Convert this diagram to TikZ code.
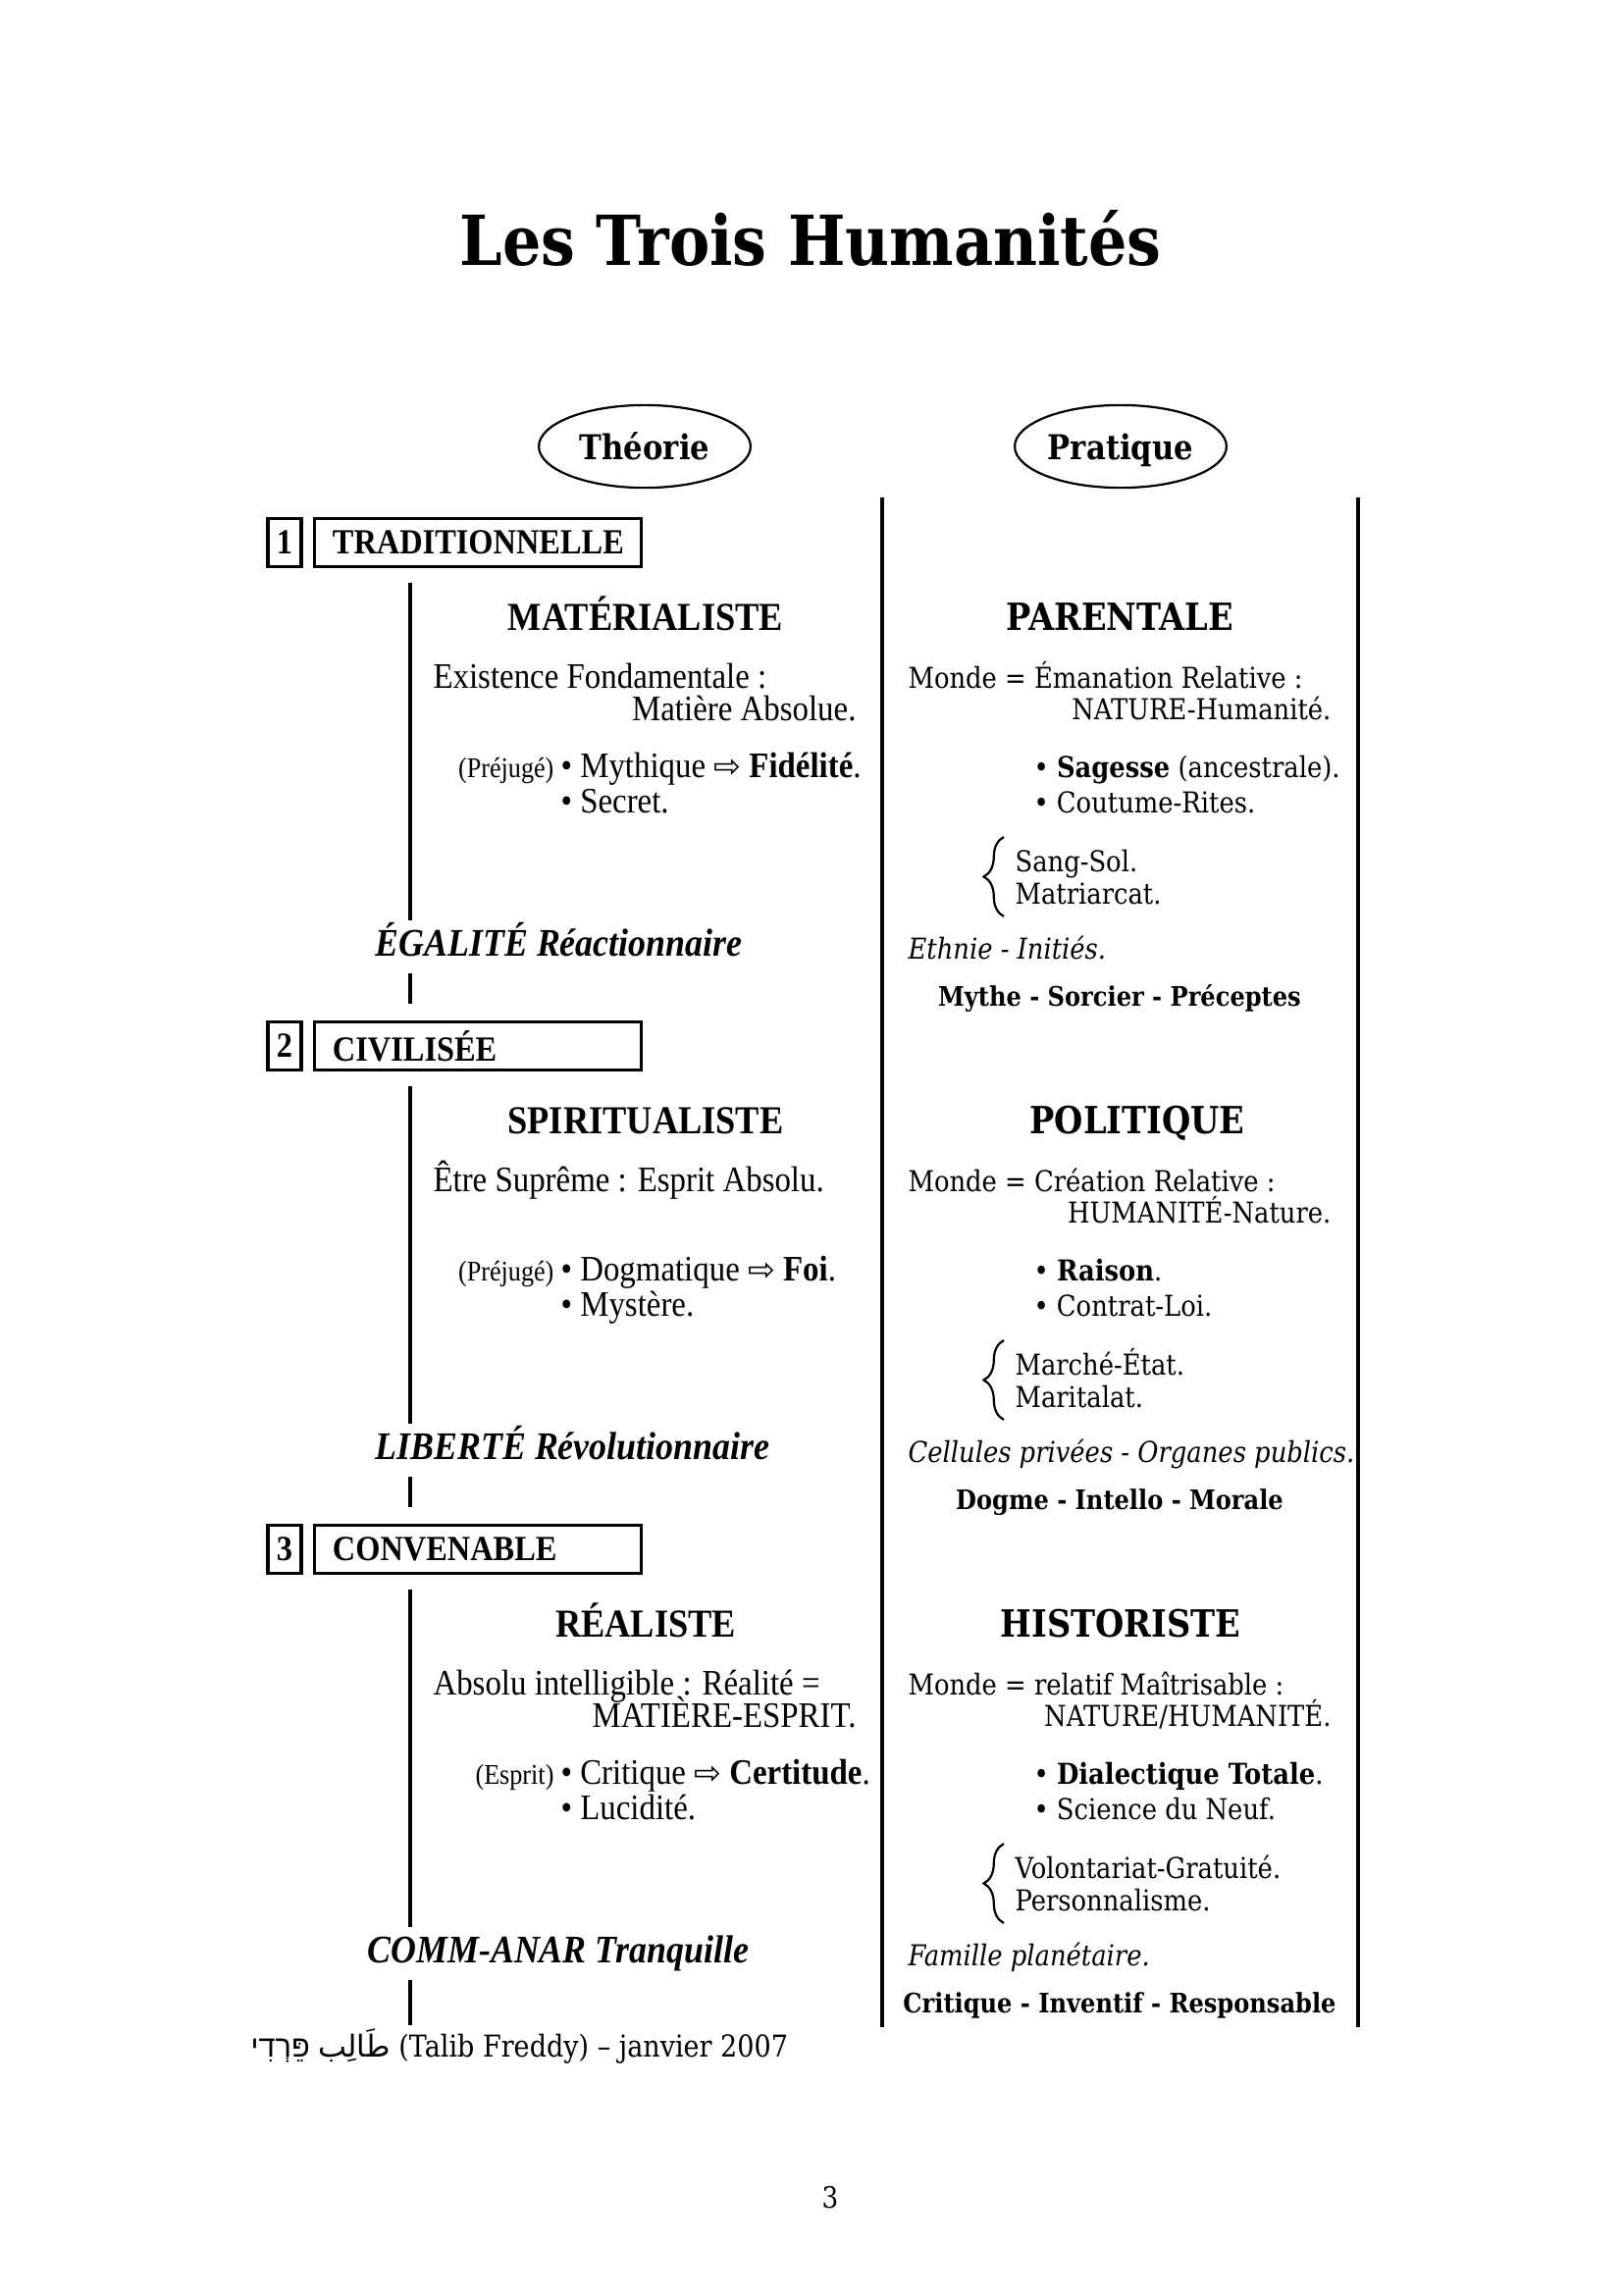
\documentclass[tikz,border=0pt]{standalone}
\usepackage{fontspec}
\setmainfont{DejaVu Serif}[FakeStretch=0.88]
\newfontfamily\tms{Liberation Serif}[FakeStretch=0.9]
\newfontfamily\symf{DejaVu Sans}
\newfontfamily\hebf[Script=Hebrew]{Liberation Sans}
\newfontfamily\arabf[Script=Arabic]{DejaVu Sans}
\TeXXeTstate=1
\usetikzlibrary{shapes.geometric, decorations.pathreplacing}
\newcommand{\impl}{{\symf\fontsize{12}{14}\selectfont ⇨}}

\begin{document}
\begin{tikzpicture}[x=0.12697mm, y=-0.12697mm, every node/.style={inner sep=0pt},
  colrule/.style={line width=1.3pt},
  spineline/.style={line width=1.2pt},
  oval/.style={ellipse, draw, line width=0.8pt, minimum width=27.4mm, minimum height=10.7mm, text height=11pt, text depth=1.3pt, font=\bfseries\fontsize{12.6}{14}\selectfont},
  numbox/.style={draw, line width=1.2pt, minimum width=4.32mm, minimum height=6.22mm, font=\tms\bfseries\fontsize{13}{15}\selectfont},
  agebox/.style={draw, line width=1.2pt, minimum height=6.22mm, inner xsep=2.3mm, text width=37.6mm, align=left, font=\tms\bfseries\fontsize{13}{15}\selectfont},
  hl/.style={anchor=base, font=\tms\bfseries\fontsize{14.6}{17}\selectfont},
  hr/.style={anchor=base, font=\bfseries\fontsize{13.8}{16}\selectfont},
  tl/.style={anchor=base west, font=\tms\fontsize{13.2}{15}\selectfont},
  tle/.style={anchor=base east, font=\tms\fontsize{13.2}{15}\selectfont},
  tiny/.style={anchor=base east, font=\tms\fontsize{10.5}{12}\selectfont},
  tr/.style={anchor=base west, font=\fontsize{10.6}{12}\selectfont},
  tre/.style={anchor=base east, font=\fontsize{10.6}{12}\selectfont},
  tri/.style={anchor=base west, font=\itshape\fontsize{10.6}{12}\selectfont},
  lab/.style={anchor=base west, text height=11pt, text depth=3pt, font=\tms\bfseries\itshape\fontsize{14.4}{17}\selectfont},
  motto/.style={anchor=base, font=\bfseries\fontsize{9.9}{12}\selectfont},
  brc/.style={decorate, decoration={brace, amplitude=2.6mm}, line width=0.8pt}]
\useasboundingbox (0,0) rectangle (1654,2339);

\node[anchor=base, font=\bfseries\fontsize{25.4}{29}\selectfont] (title) at (826,270) {Les Trois Humanités};

\node[oval] (theorie) at (657,455) {Théorie};
\node[oval] (pratique) at (1142,455) {Pratique};

\coordinate (midtop) at (899,507);
\coordinate (midbot) at (899,2066);
\coordinate (righttop) at (1384,507);
\coordinate (rightbot) at (1384,2066);
\coordinate (spine) at (418,0);
\coordinate (end3) at (418,2064);

\draw[colrule] (midtop) -- (midbot);
\draw[colrule] (righttop) -- (rightbot);

% 1 traditionnelle
\node[numbox] (n1) at (290,553) {1};
\node[agebox] (trad) at (487,553) {TRADITIONNELLE};

\node[hl] (mat) at (658,642) {MATÉRIALISTE};
\node[tl] (mat1) at (441,701) {Existence Fondamentale :};
\node[tle] (mat2) at (873,734) {Matière Absolue.};
\node[tiny] (mat3) at (565,792) {(Préjugé)};
\node[tl] (mat4) at (571,792) {• Mythique \impl\ \textbf{Fidélité}.};
\node[tl] (mat5) at (571,828) {• Secret.};
\node[lab] (egal) at (382,974) {ÉGALITÉ Réactionnaire};

\node[hr] (par) at (1141,642) {PARENTALE};
\node[tr] (par1) at (925,701) {Monde = Émanation Relative :};
\node[tre] (par2) at (1357,733) {NATURE-Humanité.};
\node[tr] (par3) at (1053,792) {• \textbf{Sagesse} (ancestrale).};
\node[tr] (par4) at (1053,828) {• Coutume-Rites.};
\node[tr] (par5) at (1034,888) {Sang-Sol.};
\node[tr] (par6) at (1034,921) {Matriarcat.};
\draw[brc] (1023,934) -- (1023,853);
\node[tri] (par7) at (925,977) {Ethnie - Initiés.};
\node[motto] (par8) at (1141,1025) {Mythe - Sorcier - Préceptes};

% 2 civilisee
\node[numbox] (n2) at (290,1066) {2};
\node[agebox] (civil) at (487,1066) {CIVILISÉE};

\node[hl] (spi) at (658,1155) {SPIRITUALISTE};
\node[tl] (spi1) at (441,1214) {Être Suprême : Esprit Absolu.};
\node[tiny] (spi3) at (565,1305) {(Préjugé)};
\node[tl] (spi4) at (571,1305) {• Dogmatique \impl\ \textbf{Foi}.};
\node[tl] (spi5) at (571,1341) {• Mystère.};
\node[lab] (libe) at (382,1487) {LIBERTÉ Révolutionnaire};

\node[hr] (pol) at (1159,1155) {POLITIQUE};
\node[tr] (pol1) at (925,1214) {Monde = Création Relative :};
\node[tre] (pol2) at (1357,1246) {HUMANITÉ-Nature.};
\node[tr] (pol3) at (1053,1305) {• \textbf{Raison}.};
\node[tr] (pol4) at (1053,1341) {• Contrat-Loi.};
\node[tr] (pol5) at (1034,1401) {Marché-État.};
\node[tr] (pol6) at (1034,1434) {Maritalat.};
\draw[brc] (1023,1447) -- (1023,1366);
\node[tri] (pol7) at (925,1490) {Cellules privées - Organes publics.};
\node[motto] (pol8) at (1141,1538) {Dogme - Intello - Morale};

% 3 convenable
\node[numbox] (n3) at (290,1579) {3};
\node[agebox] (conv) at (487,1579) {CONVENABLE};

\node[hl] (rea) at (658,1668) {RÉALISTE};
\node[tl] (rea1) at (441,1727) {Absolu intelligible : Réalité =};
\node[tle] (rea2) at (873,1760) {MATIÈRE-ESPRIT.};
\node[tiny] (rea3) at (565,1818) {(Esprit)};
\node[tl] (rea4) at (571,1818) {• Critique \impl\ \textbf{Certitude}.};
\node[tl] (rea5) at (571,1854) {• Lucidité.};
\node[lab] (comm) at (374,2000) {COMM-ANAR Tranquille};

\node[hr] (his) at (1142,1668) {HISTORISTE};
\node[tr] (his1) at (925,1727) {Monde = relatif Maîtrisable :};
\node[tre] (his2) at (1357,1759) {NATURE/HUMANITÉ.};
\node[tr] (his3) at (1053,1818) {• \textbf{Dialectique Totale}.};
\node[tr] (his4) at (1053,1854) {• Science du Neuf.};
\node[tr] (his5) at (1034,1914) {Volontariat-Gratuité.};
\node[tr] (his6) at (1034,1947) {Personnalisme.};
\draw[brc] (1023,1960) -- (1023,1879);
\node[tri] (his7) at (925,2003) {Famille planétaire.};
\node[motto] (his8) at (1141,2051) {Critique - Inventif - Responsable};

% stems
\draw[spineline, shorten <=1.85mm, shorten >=0.6mm] (trad.south -| spine) -- (egal.north -| spine);
\draw[spineline, shorten <=1.15mm, shorten >=2.1mm] (egal.south -| spine) -- (civil.north -| spine);
\draw[spineline, shorten <=1.85mm, shorten >=0.6mm] (civil.south -| spine) -- (libe.north -| spine);
\draw[spineline, shorten <=1.15mm, shorten >=2.1mm] (libe.south -| spine) -- (conv.north -| spine);
\draw[spineline, shorten <=1.85mm, shorten >=0.6mm] (conv.south -| spine) -- (comm.north -| spine);
\draw[spineline, shorten <=1.15mm] (comm.south -| spine) -- (end3);

\node[anchor=base west, font=\fontsize{11.1}{13}\selectfont] (sign) at (255,2096)
  {{\hebf\beginR פֵּרְדִי\endR}\ {\arabf\beginR طَالِب\endR} (Talib Freddy) – janvier 2007};

\node[anchor=base, font=\fontsize{10.8}{13}\selectfont] (page) at (846,2250) {3};
\end{tikzpicture}
\end{document}
